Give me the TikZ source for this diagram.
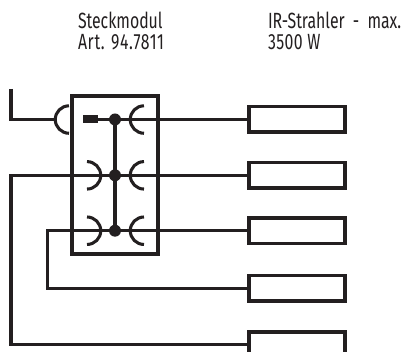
\documentclass[tikz,border=0pt]{standalone}
\usepackage{fontspec}
\setmainfont{Fira Sans}[FakeStretch=0.72]
\tikzset{
  px/.style={x=0.75pt,y=-0.75pt},
  wire/.style={line width=2.5pt,color=ink,line join=miter},
  lamp/.style={draw=ink,line width=2.5pt,fill=white,rectangle,minimum width=72pt,minimum height=19pt,inner sep=0pt,outer sep=0pt},
  modbox/.style={draw=ink,line width=2.5pt,rectangle,minimum width=64.5pt,minimum height=118.5pt,inner sep=0pt,outer sep=0pt},
  joint/.style={circle,fill=ink,minimum size=9pt,inner sep=0pt,outer sep=0pt},
  plug/.style={rectangle,fill=ink,minimum width=11.2pt,minimum height=6pt,inner sep=0pt,outer sep=0pt},
  lbl/.style={anchor=base west,inner sep=0pt,outer sep=0pt,font=\fontsize{16.5pt}{16.5pt}\selectfont,text=ink},
  sock/.style={line width=2.3pt,color=ink}
}
\definecolor{ink}{HTML}{231F20}
\begin{document}
\begin{tikzpicture}[px]
\useasboundingbox (0,0) rectangle (406,352);
\clip (0,0) rectangle (406,352);
% labels
\node[lbl] (t1) at (78,29) {Steckmodul};
\node[lbl] (t2) at (78,50) {\addfontfeature{LetterSpace=3}Art. 94.7811};
\node[lbl] (t3) at (268,29) {IR-Strahler\hspace{3pt} - \hspace{3pt}max.};
\node[lbl] (t4) at (268,50) {\addfontfeature{LetterSpace=2}3500 W};
% named points
\node[modbox] (mod) at (115,175) {};
\node[lamp] (r1) at (297,119.5) {};
\node[lamp] (r2) at (297,175.3) {};
\node[lamp] (r3) at (297,230.7) {};
\node[lamp] (r4) at (297,288.3) {};
\node[lamp] (r5) at (297,344.5) {};
\node[plug] (p) at (90.5,119.5) {};
\coordinate (c0) at (11,89);
\coordinate (c1) at (11,119.5);
\coordinate (s1) at (55,119.5);
\coordinate (c2) at (11,175.3);
\coordinate (c3) at (11,344.5);
\coordinate (c4) at (47.5,230.7);
\coordinate (c5) at (47.5,288.3);
% joints positions
\coordinate (j1p) at (115,119.5);
\coordinate (j2p) at (115,175.3);
\coordinate (j3p) at (115,230.7);
% wires
\draw[wire] (c0) -- (c1) -- (s1);
\draw[wire] (p.east) -- (r1.west);
\draw[wire] (r5.west) -- (c3) -- (c2) -- (r2.west);
\draw[wire] (r4.west) -- (c5) -- (c4) -- (r3.west);
\draw[wire] (j1p) -- (j3p);
% sockets
\foreach \y in {119.5,175.3,230.7}{
  \draw[sock] (144,\y-13.7) arc[start angle=90,end angle=270,radius=10.3pt];
}
\foreach \y in {175.3,230.7}{
  \draw[sock] (87,\y-13.7) arc[start angle=90,end angle=-90,radius=10.3pt];
}
\draw[sock] (69,119.5-13.7) arc[start angle=90,end angle=270,radius=10.3pt];
\node[joint] (j1) at (j1p) {};
\node[joint] (j2) at (j2p) {};
\node[joint] (j3) at (j3p) {};
\end{tikzpicture}
\end{document}
